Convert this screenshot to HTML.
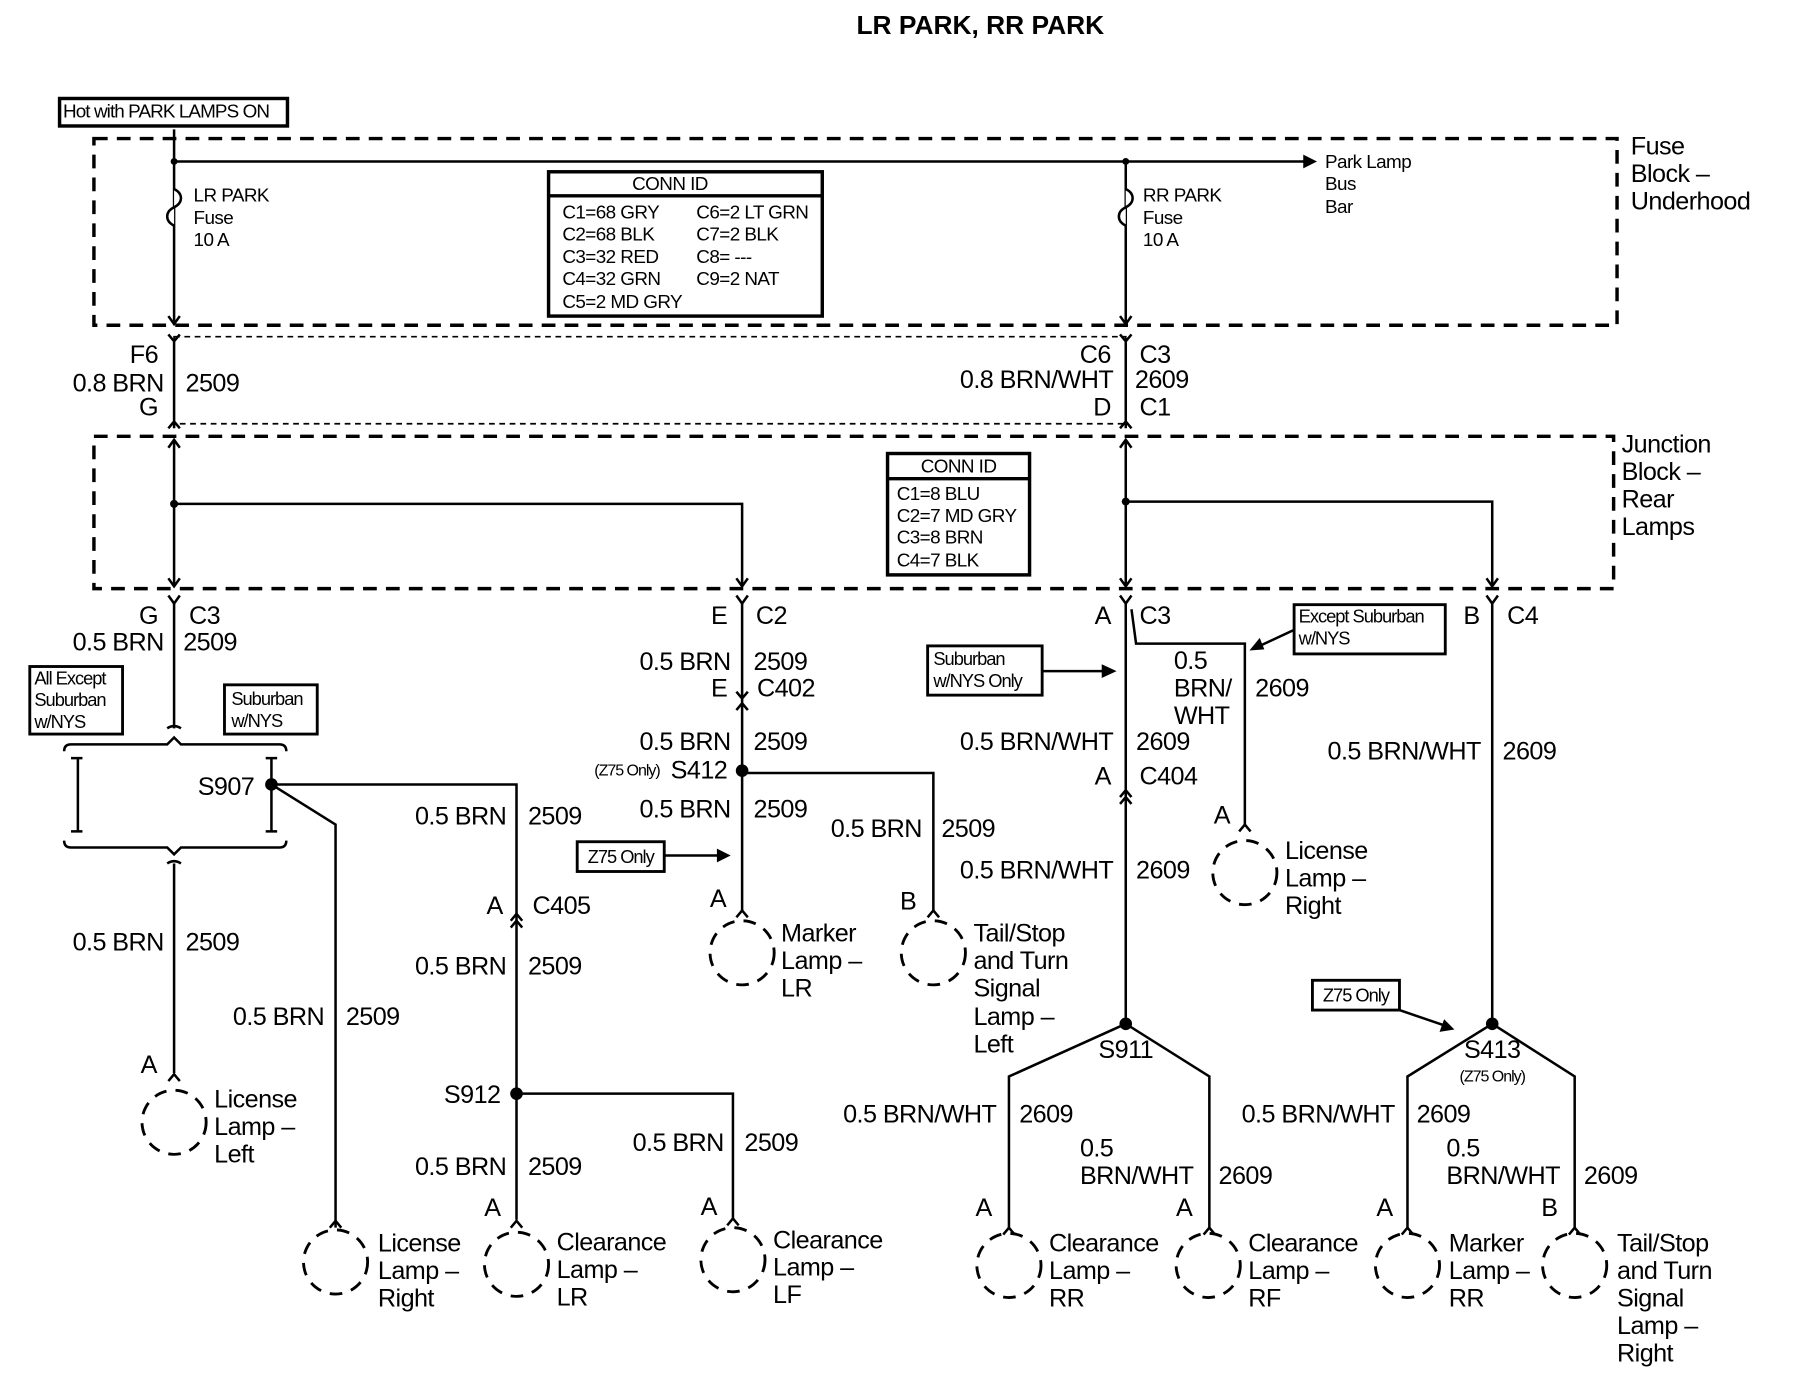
<!DOCTYPE html>
<html><head><meta charset="utf-8"><style>
html,body{margin:0;padding:0;background:#fff}
svg{display:block}
text{font-family:"Liberation Sans",sans-serif;font-size:22px;fill:#000;dominant-baseline:central;letter-spacing:-0.5px}
.s{font-size:16.5px;letter-spacing:-0.5px}
.xs{font-size:16px;letter-spacing:-0.9px}
.e{text-anchor:end}.m{text-anchor:middle}
.w{stroke:#000;stroke-width:2.2;fill:none}
.d{stroke:#000;stroke-width:3;fill:none;stroke-dasharray:12 8}
.dt{stroke:#000;stroke-width:1.5;fill:none;stroke-dasharray:5 4}
.b{stroke:#000;stroke-width:3;fill:#fff}
.l{stroke:#000;stroke-width:2.5;fill:none;stroke-dasharray:11 8}
</style></head><body>
<svg width="1794" height="1392" viewBox="0 0 1566.5 1215.5" xmlns="http://www.w3.org/2000/svg">
<text x="856" y="22" class="m" style="font-size:23px;font-weight:bold;letter-spacing:0">LR PARK, RR PARK</text>

<rect x="52" y="86" width="199" height="24" class="b"/>
<text x="55" y="98" class="s" style="letter-spacing:-0.8px">Hot with PARK LAMPS ON</text>

<rect x="82" y="121" width="1330" height="163" class="d"/>
<text x="1424" y="128">Fuse</text><text x="1424" y="152">Block –</text><text x="1424" y="176">Underhood</text>
<path class="w" d="M152 113 V283 M152 141 H1140 M983 141 V283"/>
<path d="M1138 135 L1150 141 L1138 147Z"/>
<circle cx="152" cy="141" r="3"/><circle cx="983" cy="141" r="3"/>
<path class="w" style="fill:#fff" d="M152 165 c8 4 8 12 0 16 c-8 4 -8 12 0 16"/>
<path class="w" style="fill:#fff" d="M983 165 c8 4 8 12 0 16 c-8 4 -8 12 0 16"/>
<text x="169" y="171" class="s">LR PARK</text><text x="169" y="191" class="s">Fuse</text><text x="169" y="210" class="s">10 A</text>
<text x="998" y="171" class="s">RR PARK</text><text x="998" y="191" class="s">Fuse</text><text x="998" y="210" class="s">10 A</text>
<text x="1157" y="142" class="s">Park Lamp</text><text x="1157" y="161" class="s">Bus</text><text x="1157" y="181" class="s">Bar</text>
<path class="w" d="M147 276 L152 283 L157 276 M978 276 L983 283 L988 276"/>

<rect x="479" y="150" width="239" height="126" class="b"/>
<line x1="479" y1="171" x2="718" y2="171" stroke="#000" stroke-width="3"/>
<text x="585" y="161" class="s m">CONN ID</text>
<text x="491" y="186" class="s">C1=68 GRY</text><text x="608" y="186" class="s">C6=2 LT GRN</text>
<text x="491" y="205" class="s">C2=68 BLK</text><text x="608" y="205" class="s">C7=2 BLK</text>
<text x="491" y="225" class="s">C3=32 RED</text><text x="608" y="225" class="s">C8= ---</text>
<text x="491" y="244" class="s">C4=32 GRN</text><text x="608" y="244" class="s">C9=2 NAT</text>
<text x="491" y="264" class="s">C5=2 MD GRY</text>

<rect x="152" y="294" width="831" height="76" class="dt"/>
<path class="w" d="M152 296 V374 M983 296 V374 M147 292 L152 298 L157 292 M978 292 L983 298 L988 292 M147 374 L152 368 L157 374 M978 374 L983 368 L988 374"/>
<text x="138" y="310" class="e">F6</text><text x="143" y="335" class="e">0.8 BRN</text><text x="162" y="335">2509</text><text x="138" y="356" class="e">G</text>
<text x="970" y="310" class="e">C6</text><text x="995" y="310">C3</text>
<text x="972" y="332" class="e">0.8 BRN/WHT</text><text x="991" y="332">2609</text>
<text x="970" y="356" class="e">D</text><text x="995" y="356">C1</text>

<rect x="82" y="381" width="1327" height="133" class="d"/>
<text x="1416" y="388">Junction</text><text x="1416" y="412">Block –</text><text x="1416" y="436">Rear</text><text x="1416" y="460">Lamps</text>
<path class="w" d="M152 384 V512 M152 440 H648 V512 M983 384 V512 M983 438 H1303 V512"/>
<circle cx="152" cy="440" r="3.5"/><circle cx="983" cy="438" r="3.5"/>
<path class="w" d="M147 391 L152 384 L157 391 M978 391 L983 384 L988 391 M147 505 L152 512 L157 505 M643 505 L648 512 L653 505 M978 505 L983 512 L988 505 M1298 505 L1303 512 L1308 505"/>
<rect x="775" y="396" width="124" height="106" class="b"/>
<line x1="775" y1="418" x2="899" y2="418" stroke="#000" stroke-width="3"/>
<text x="837" y="408" class="s m">CONN ID</text>
<text x="783" y="432" class="s">C1=8 BLU</text><text x="783" y="451" class="s">C2=7 MD GRY</text>
<text x="783" y="470" class="s">C3=8 BRN</text><text x="783" y="490" class="s">C4=7 BLK</text>

<path class="w" d="M147 520 L152 527 L157 520 M643 520 L648 527 L653 520 M978 520 L983 527 L988 520 M1298 520 L1303 527 L1308 520"/>
<text x="138" y="538" class="e">G</text><text x="165" y="538">C3</text>
<text x="143" y="561" class="e">0.5 BRN</text><text x="160" y="561">2509</text>
<text x="635" y="538" class="e">E</text><text x="660" y="538">C2</text>
<text x="638" y="578" class="e">0.5 BRN</text><text x="658" y="578">2509</text>
<text x="635" y="601" class="e">E</text><text x="661" y="601">C402</text>
<text x="970" y="538" class="e">A</text><text x="995" y="538">C3</text>
<text x="1292" y="538" class="e">B</text><text x="1316" y="538">C4</text>

<path class="w" d="M152 527 V636 M146 636 Q152 632 158 636 M56 656 Q56 650 62 650 H146 L152 644 L158 650 H244 Q250 650 250 656 M56 734 Q56 740 62 740 H146 L152 746 L158 740 H244 Q250 740 250 734 M146 754 Q152 750 158 754 M152 754 V937"/>
<path class="w" d="M62 662 H72 M68 662 V726 M62 726 H72 M232 662 H242 M237 662 V726 M232 726 H242"/>
<rect x="26" y="582" width="81" height="59" class="b" style="stroke-width:2.5"/>
<text x="30" y="592" class="xs">All Except</text><text x="30" y="611" class="xs">Suburban</text><text x="30" y="630" class="xs">w/NYS</text>
<rect x="196" y="598" width="81" height="43" class="b" style="stroke-width:2.5"/>
<text x="202" y="610" class="xs">Suburban</text><text x="202" y="629" class="xs">w/NYS</text>
<circle cx="237" cy="685" r="5.5"/>
<text x="222" y="687" class="e">S907</text>
<path class="w" d="M237 685 H451 V1065 M237 685 L293 720 V1072"/>
<text x="143" y="823" class="e">0.5 BRN</text><text x="162" y="823">2509</text>
<text x="442" y="713" class="e">0.5 BRN</text><text x="461" y="713">2509</text>
<text x="439" y="791" class="e">A</text><text x="465" y="791">C405</text>
<path class="w" d="M446 804 L451 798 L456 804 M446 810 L451 804 L456 810"/>
<text x="442" y="844" class="e">0.5 BRN</text><text x="461" y="844">2509</text>
<text x="283" y="888" class="e">0.5 BRN</text><text x="302" y="888">2509</text>
<circle cx="451" cy="955" r="5.5"/>
<text x="437" y="956" class="e">S912</text>
<path class="w" d="M451 955 H640 V1065"/>
<text x="632" y="998" class="e">0.5 BRN</text><text x="650" y="998">2509</text>
<text x="442" y="1019" class="e">0.5 BRN</text><text x="461" y="1019">2509</text>

<text x="137" y="930" class="e">A</text>
<path class="w" d="M147 944 L152 938 L157 944"/>
<circle cx="152" cy="980" r="28" class="l"/>
<text x="187" y="960">License</text><text x="187" y="984">Lamp –</text><text x="187" y="1008">Left</text>
<path class="w" d="M288 1072 L293 1066 L298 1072"/>
<circle cx="293" cy="1102" r="28" class="l"/>
<text x="330" y="1086">License</text><text x="330" y="1110">Lamp –</text><text x="330" y="1134">Right</text>
<text x="437" y="1055" class="e">A</text>
<path class="w" d="M446 1072 L451 1066 L456 1072"/>
<circle cx="451" cy="1104" r="28" class="l"/>
<text x="486" y="1085">Clearance</text><text x="486" y="1109">Lamp –</text><text x="486" y="1133">LR</text>
<text x="626" y="1054" class="e">A</text>
<path class="w" d="M635 1070 L640 1064 L645 1070"/>
<circle cx="640" cy="1100" r="28" class="l"/>
<text x="675" y="1083">Clearance</text><text x="675" y="1107">Lamp –</text><text x="675" y="1131">LF</text>

<path class="w" d="M648 527 V795 M643 604 L648 610 L653 604 M643 620 L648 614 L653 620 M648 675 H815 V795"/>
<circle cx="648" cy="673" r="5.5"/>
<text x="638" y="648" class="e">0.5 BRN</text><text x="658" y="648">2509</text>
<text x="576" y="673" class="xs e" style="font-size:14px">(Z75 Only)</text><text x="635" y="673" class="e">S412</text>
<text x="638" y="707" class="e">0.5 BRN</text><text x="658" y="707">2509</text>
<text x="805" y="724" class="e">0.5 BRN</text><text x="822" y="724">2509</text>
<rect x="504" y="735" width="76" height="26" class="b" style="stroke-width:2.5"/>
<text x="542" y="748" class="xs m">Z75 Only</text>
<path class="w" d="M580 747 H628"/><path d="M626 741 L638 747 L626 753Z"/>
<text x="634" y="785" class="e">A</text>
<path class="w" d="M643 801 L648 795 L653 801"/>
<circle cx="648" cy="832" r="28" class="l"/>
<text x="682" y="815">Marker</text><text x="682" y="839">Lamp –</text><text x="682" y="863">LR</text>
<text x="800" y="787" class="e">B</text>
<path class="w" d="M810 801 L815 795 L820 801"/>
<circle cx="815" cy="832" r="28" class="l"/>
<text x="850" y="815">Tail/Stop</text><text x="850" y="839">and Turn</text><text x="850" y="863">Signal</text><text x="850" y="888">Lamp –</text><text x="850" y="912">Left</text>

<path class="w" d="M983 527 V894 M988 532 L992 562 H1087 V720"/>
<path class="w" d="M978 696 L983 690 L988 696 M978 702 L983 696 L988 702"/>
<text x="1025" y="577">0.5</text><text x="1025" y="601">BRN/</text><text x="1025" y="625">WHT</text><text x="1096" y="601">2609</text>
<rect x="1130" y="528" width="132" height="43" class="b" style="stroke-width:2.5"/>
<text x="1134" y="538" class="xs">Except Suburban</text><text x="1134" y="557" class="xs">w/NYS</text>
<path class="w" d="M1130 550 L1100 564"/><path d="M1091 568 L1100 557 L1104 567Z"/>
<rect x="810" y="564" width="100" height="43" class="b" style="stroke-width:2.5"/>
<text x="815" y="575" class="xs">Suburban</text><text x="815" y="594" class="xs">w/NYS Only</text>
<path class="w" d="M910 586 H964"/><path d="M962 580 L975 586 L962 592Z"/>
<text x="972" y="648" class="e">0.5 BRN/WHT</text><text x="992" y="648">2609</text>
<text x="970" y="678" class="e">A</text><text x="995" y="678">C404</text>
<text x="972" y="760" class="e">0.5 BRN/WHT</text><text x="992" y="760">2609</text>
<text x="1074" y="712" class="e">A</text>
<path class="w" d="M1082 726 L1087 720 L1092 726"/>
<circle cx="1087" cy="762" r="28" class="l"/>
<text x="1122" y="743">License</text><text x="1122" y="767">Lamp –</text><text x="1122" y="791">Right</text>
<circle cx="983" cy="894" r="5.5"/>
<text x="983" y="917" class="m">S911</text>
<path class="w" d="M983 894 L881 940 V1072 M983 894 L1056 940 V1072"/>
<text x="870" y="973" class="e">0.5 BRN/WHT</text><text x="890" y="973">2609</text>
<text x="943" y="1003">0.5</text><text x="943" y="1027">BRN/WHT</text><text x="1064" y="1027">2609</text>

<path class="w" d="M1303 527 V894 M1303 894 L1229 940 V1072 M1303 894 L1375 940 V1072"/>
<circle cx="1303" cy="894" r="5.5"/>
<text x="1293" y="656" class="e">0.5 BRN/WHT</text><text x="1312" y="656">2609</text>
<rect x="1146" y="856" width="76" height="26" class="b" style="stroke-width:2.5"/>
<text x="1184" y="869" class="xs m">Z75 Only</text>
<path class="w" d="M1222 882 L1260 895"/><path d="M1270 899 L1257 901 L1261 890Z"/>
<text x="1303" y="917" class="m">S413</text>
<text x="1303" y="940" class="xs m" style="font-size:14px">(Z75 Only)</text>
<text x="1218" y="973" class="e">0.5 BRN/WHT</text><text x="1237" y="973">2609</text>
<text x="1263" y="1003">0.5</text><text x="1263" y="1027">BRN/WHT</text><text x="1383" y="1027">2609</text>

<text x="866" y="1055" class="e">A</text>
<path class="w" d="M876 1078 L881 1072 L886 1078"/>
<circle cx="881" cy="1105" r="28" class="l"/>
<text x="916" y="1086">Clearance</text><text x="916" y="1110">Lamp –</text><text x="916" y="1134">RR</text>
<text x="1041" y="1055" class="e">A</text>
<path class="w" d="M1051 1078 L1056 1072 L1061 1078"/>
<circle cx="1055" cy="1105" r="28" class="l"/>
<text x="1090" y="1086">Clearance</text><text x="1090" y="1110">Lamp –</text><text x="1090" y="1134">RF</text>
<text x="1216" y="1055" class="e">A</text>
<path class="w" d="M1224 1078 L1229 1072 L1234 1078"/>
<circle cx="1229" cy="1105" r="28" class="l"/>
<text x="1265" y="1086">Marker</text><text x="1265" y="1110">Lamp –</text><text x="1265" y="1134">RR</text>
<text x="1360" y="1055" class="e">B</text>
<path class="w" d="M1370 1078 L1375 1072 L1380 1078"/>
<circle cx="1375" cy="1105" r="28" class="l"/>
<text x="1412" y="1086">Tail/Stop</text><text x="1412" y="1110">and Turn</text><text x="1412" y="1134">Signal</text><text x="1412" y="1158">Lamp –</text><text x="1412" y="1182">Right</text>
</svg>
</body></html>
